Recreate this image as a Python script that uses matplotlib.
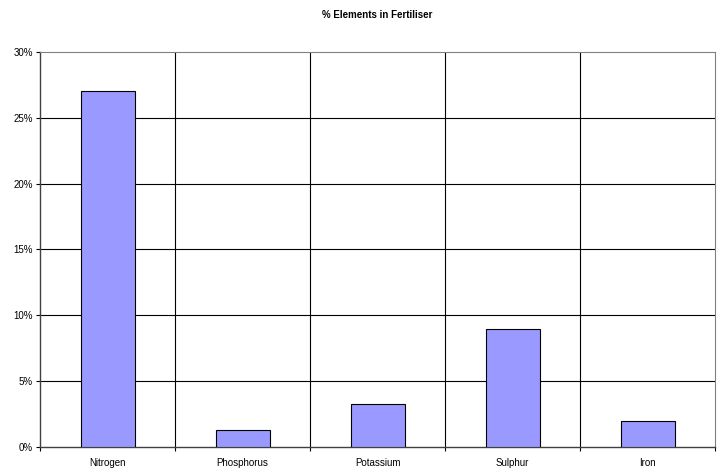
import matplotlib
matplotlib.use("Agg")
import matplotlib.pyplot as plt
from matplotlib.ticker import FixedLocator, NullFormatter, FuncFormatter

plt.rcParams['font.family'] = ['Liberation Sans', 'DejaVu Sans']

categories = ["Nitrogen", "Phosphorus", "Potassium", "Sulphur", "Iron"]
values = [27.0, 1.3, 3.3, 9.0, 2.0]
y_ticks = [0, 5, 10, 15, 20, 25, 30]

fig = plt.figure(figsize=(7.23, 4.70), dpi=100)
ax = fig.add_axes([40 / 723, 1 - 447 / 470, 675 / 723, 395 / 470])

x = list(range(len(categories)))
ax.bar(x, values, width=0.4, color="#9999FF", edgecolor="black", linewidth=0.8, zorder=3)

ax.set_xlim(-0.5, len(categories) - 0.5)
ax.set_ylim(0, 30)

# horizontal gridlines at the major y ticks
for t in y_ticks[1:-1]:
    ax.axhline(t, color="black", linewidth=0.8, zorder=1)
# vertical gridlines at category boundaries
boundaries = [i + 0.5 for i in range(len(categories) - 1)]
for b in boundaries:
    ax.axvline(b, color="black", linewidth=0.8, zorder=1)

ax.yaxis.set_major_locator(FixedLocator(y_ticks))
ax.yaxis.set_major_formatter(FuncFormatter(lambda v, p: f"{int(v)}%"))
ax.xaxis.set_major_locator(FixedLocator(x))
ax.set_xticklabels(categories)
ax.tick_params(axis="x", which="major", length=0, pad=8, labelsize=7)
ax.xaxis.set_minor_locator(FixedLocator([-0.5] + boundaries + [len(categories) - 0.5]))
ax.xaxis.set_minor_formatter(NullFormatter())
ax.tick_params(axis="x", which="minor", length=3, width=0.8, direction="out")
ax.tick_params(axis="y", length=3, width=0.8, direction="out", pad=2, labelsize=7)

ax.spines["left"].set_color("#404040")
ax.spines["bottom"].set_color("#404040")
ax.spines["left"].set_linewidth(1.0)
ax.spines["bottom"].set_linewidth(1.0)
ax.spines["top"].set_color("#808080")
ax.spines["right"].set_color("#808080")
ax.spines["top"].set_linewidth(0.8)
ax.spines["right"].set_linewidth(0.8)

fig.text(377 / 723, 1 - 15 / 470, "% Elements in Fertiliser", ha="center", va="center",
         fontsize=7, fontweight="bold")

fig.savefig("out.png", dpi=100)
